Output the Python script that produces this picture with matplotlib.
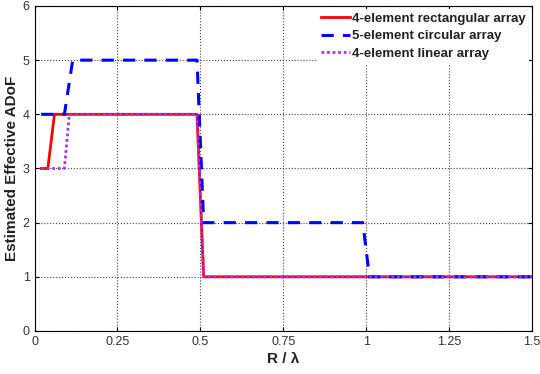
import matplotlib.pyplot as plt

plt.rcParams['font.family'] = ['Liberation Sans', 'DejaVu Sans']

# R / lambda breakpoints and ADoF values
x_rect = [0.02, 0.04, 0.06, 0.49, 0.51, 1.5]
y_rect = [3, 3, 4, 4, 1, 1]

x_circ = [0.02, 0.09, 0.115, 0.49, 0.51, 0.99, 1.01, 1.5]
y_circ = [4, 4, 5, 5, 2, 2, 1, 1]

x_lin = [0.02, 0.09, 0.105, 0.49, 0.51, 1.5]
y_lin = [3, 3, 4, 4, 1, 1]

labels = ['4-element rectangular array', '5-element circular array', '4-element linear array']
xticks = [0, 0.25, 0.5, 0.75, 1, 1.25, 1.5]
xticklabels = ['0', '0.25', '0.5', '0.75', '1', '1.25', '1.5']

fig = plt.figure(figsize=(5.4, 3.74), dpi=100)
ax = fig.add_axes([0.064, 0.115, 0.921, 0.869])

ax.plot(x_rect, y_rect, color='#FF0000', lw=2, ls='-', label=labels[0])
ax.plot(x_circ, y_circ, color='#0000FF', lw=2.2, ls=(0, (4, 3)), label=labels[1])
ax.plot(x_lin, y_lin, color='#A035F0', lw=2, ls=(0, (1, 1)), label=labels[2])

ax.set_xlim(0, 1.5)
ax.set_ylim(0, 6)
ax.set_xticks(xticks)
ax.set_xticklabels(xticklabels)
ax.set_yticks(range(7))
ax.tick_params(direction='in', top=True, right=True, labelsize=9, length=3,
               labelcolor='#333333')
ax.grid(True, ls=':', color='#444444', lw=0.8)
for s in ax.spines.values():
    s.set_linewidth(0.8)

ax.set_xlabel('R / \u03bb', fontsize=11, fontweight='bold', labelpad=3, color='#222222')
ax.set_ylabel('Estimated Effective ADoF', fontsize=11, fontweight='bold', labelpad=3,
              color='#222222')

leg = ax.legend(loc='upper right', fontsize=9.5, frameon=True, fancybox=False,
                edgecolor='none', framealpha=1, handlelength=2.2, handletextpad=0.1,
                borderaxespad=0.2, borderpad=0.3, labelspacing=0.4)
for t in leg.get_texts():
    t.set_fontweight('bold')
    t.set_color('#222222')

fig.savefig('out.png', dpi=100)
